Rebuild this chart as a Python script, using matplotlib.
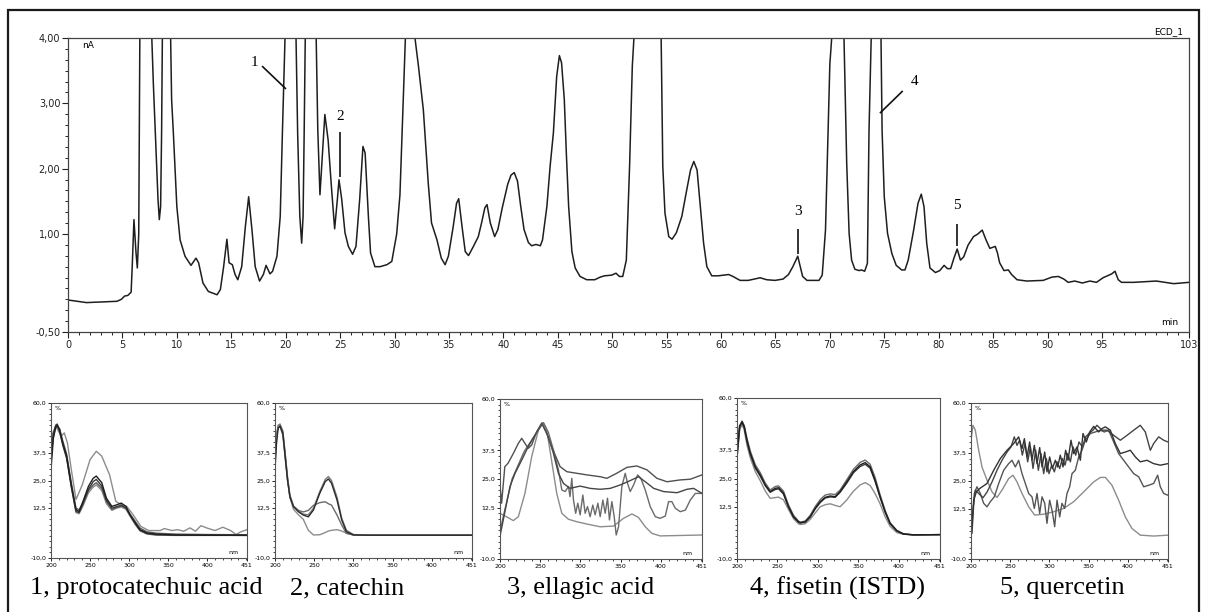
import numpy as np
import matplotlib
matplotlib.use('Agg')
import matplotlib.pyplot as plt
from matplotlib.patches import Rectangle
from matplotlib.ticker import MultipleLocator

# ---- chromatogram (ECD_1), time in min, signal in nA ----
ret_time = [0.0, 1.7, 4.5, 4.9, 5.2, 5.5, 5.8, 5.9, 6.06, 6.25, 6.37, 6.5, 6.6, 7.1, 7.7,
            7.84, 8.09, 8.27, 8.39, 8.51, 8.6, 8.67, 9.05, 9.43, 9.52, 9.68, 10.0, 10.3,
            10.75, 11.3, 11.76, 12.0, 12.4, 12.9, 13.7, 14.0, 14.3, 14.6, 14.8, 15.1, 15.35,
            15.6, 15.96, 16.3, 16.6, 16.9, 17.2, 17.6, 17.95, 18.2, 18.56, 18.8, 19.2, 19.5,
            19.7, 19.94, 20.45, 20.95, 21.1, 21.3, 21.47, 21.6, 21.7, 21.8, 22.3, 22.8, 22.95,
            23.15, 23.4, 23.6, 23.9, 24.2, 24.5, 24.75, 24.9, 25.15, 25.45, 25.76, 26.15, 26.46,
            26.8, 27.1, 27.3, 27.6, 27.8, 28.2, 28.67, 29.3, 29.75, 30.2, 30.5, 31.0, 31.45,
            31.88, 32.2, 32.65, 33.1, 33.4, 33.9, 34.3, 34.65, 34.95, 35.4, 35.7, 35.9, 36.2,
            36.5, 36.8, 37.25, 37.7, 38.0, 38.3, 38.5, 38.8, 39.2, 39.5, 39.9, 40.4, 40.7,
            41.0, 41.3, 41.6, 41.9, 42.3, 42.6, 43.0, 43.4, 43.6, 44.0, 44.3, 44.6, 44.9,
            45.15, 45.35, 45.6, 45.8, 46.0, 46.3, 46.6, 47.05, 47.66, 48.4, 48.9, 49.3, 49.95,
            50.35, 50.66, 50.97, 51.3, 51.6, 51.85, 52.0, 53.3, 54.5, 54.65, 54.85, 55.2, 55.5,
            55.9, 56.4, 56.8, 57.2, 57.5, 57.8, 58.1, 58.4, 58.7, 59.15, 59.75, 60.7, 61.1,
            61.75, 62.5, 63.6, 64.2, 64.96, 65.7, 66.2, 66.6, 67.05, 67.5, 67.9, 69.0, 69.3,
            69.6, 69.8, 70.0, 70.17, 70.7, 71.3, 71.55, 71.77, 72.0, 72.3, 72.7, 72.9, 73.2,
            73.45, 73.6, 73.8, 74.25, 74.7, 74.8, 75.0, 75.3, 75.7, 76.1, 76.6, 76.9, 77.2,
            77.7, 78.1, 78.4, 78.65, 78.9, 79.2, 79.7, 80.1, 80.5, 80.8, 81.1, 81.4, 81.7,
            82.0, 82.3, 82.7, 83.2, 83.6, 84.0, 84.35, 84.7, 85.2, 85.4, 85.6, 86.0, 86.4,
            86.7, 87.2, 88.1, 89.6, 90.4, 91.0, 91.5, 91.9, 92.5, 93.2, 93.9, 94.5, 95.1,
            95.9, 96.2, 96.5, 96.8, 97.9, 100.0, 101.6, 103.0]
signal = [-0.01, -0.05, -0.03, 0.0, 0.05, 0.06, 0.11, 0.5, 1.22, 0.71, 0.48, 1.0, 4.0, 9.0, 4.0,
          3.31, 2.29, 1.53, 1.22, 1.42, 2.55, 4.0, 9.0, 4.0, 3.06, 2.55, 1.42, 0.91,
          0.66, 0.52, 0.63, 0.56, 0.25, 0.12, 0.07, 0.15, 0.5, 0.92, 0.56, 0.53, 0.38,
          0.30, 0.5, 1.12, 1.57, 1.07, 0.5, 0.28, 0.38, 0.52, 0.39, 0.43, 0.66, 1.27,
          2.55, 4.0, 9.0, 4.0, 2.55, 1.27, 0.86, 1.27, 2.55, 4.0, 9.0, 4.0, 2.6,
          1.6, 2.29, 2.83, 2.44, 1.73, 1.08, 1.53, 1.83, 1.53, 1.02, 0.81, 0.69, 0.81,
          1.53, 2.34, 2.24, 1.27, 0.71, 0.5, 0.5, 0.53, 0.58, 1.0, 1.6, 4.0, 9.0,
          4.0, 3.57, 2.9, 1.78, 1.17, 0.91, 0.63, 0.53, 0.66, 1.12, 1.47, 1.54, 1.12,
          0.73, 0.67, 0.81, 0.96, 1.17, 1.4, 1.45, 1.17, 0.96, 1.07, 1.4, 1.76, 1.9,
          1.94, 1.81, 1.42, 1.07, 0.87, 0.82, 0.84, 0.82, 0.91, 1.42, 2.04, 2.55, 3.41,
          3.73, 3.62, 3.06, 2.19, 1.42, 0.73, 0.48, 0.35, 0.3, 0.3, 0.34, 0.36, 0.37,
          0.4, 0.35, 0.35, 0.6, 2.04, 3.57, 4.0, 12.0, 4.0, 2.04, 1.32, 0.96, 0.92,
          1.02, 1.27, 1.63, 1.98, 2.11, 1.98, 1.42, 0.86, 0.5, 0.36, 0.36, 0.38, 0.35,
          0.29, 0.29, 0.33, 0.3, 0.29, 0.31, 0.38, 0.5, 0.66, 0.35, 0.29, 0.29, 0.37,
          1.06, 2.33, 3.6, 4.0, 12.0, 4.0, 2.08, 1.01, 0.6, 0.46, 0.44, 0.45, 0.43,
          0.55, 2.59, 4.0, 12.0, 4.0, 2.59, 1.57, 1.01, 0.7, 0.52, 0.45, 0.45, 0.6,
          1.06, 1.47, 1.61, 1.42, 0.86, 0.48, 0.41, 0.44, 0.52, 0.47, 0.47, 0.63, 0.77,
          0.6, 0.65, 0.83, 0.96, 1.0, 1.06, 0.91, 0.78, 0.81, 0.71, 0.56, 0.44, 0.45,
          0.38, 0.3, 0.28, 0.29, 0.34, 0.35, 0.31, 0.26, 0.28, 0.25, 0.28, 0.26, 0.33,
          0.39, 0.43, 0.3, 0.26, 0.26, 0.28, 0.24, 0.26]

peak_ids = ['1', '2', '3', '4', '5']
peak_line_t = [[17.83, 20.03], [25.0, 25.0], [67.1, 67.1], [76.7, 74.6], [81.7, 81.7]]
peak_line_v = [[3.57, 3.22], [2.56, 1.87], [1.07, 0.70], [3.19, 2.85], [1.15, 0.82]]
peak_text_t = [17.1, 25.0, 67.1, 77.8, 81.7]
peak_text_v = [3.62, 2.7, 1.25, 3.33, 1.33]

# ---- UV spectra ----
# 1, protocatechuic acid
p1_wl_a = [200, 203, 206, 210, 213, 217, 221, 226, 232, 240, 250, 258, 265, 275, 283, 290, 297, 305,
           315, 325, 340, 345, 355, 362, 370, 378, 385, 392, 400, 410, 420, 430, 437, 443, 451]
p1_a = [41, 47, 49.5, 47, 45, 46.5, 42, 30, 16.4, 23, 34.4, 38.2, 36, 27.6, 15.6, 14.1, 13.3, 9.6,
        4.3, 2.4, 2.4, 3.3, 2.4, 2.8, 2.1, 3.6, 2.1, 4.6, 3.5, 2.4, 3.9, 2.4, 0.6, 1.8, 2.8]
p1_wl = [200, 203, 206, 208, 211, 215, 220, 226, 232, 236, 241, 248, 254, 258, 265, 271, 278, 284,
         290, 296, 301, 308, 314, 323, 335, 360, 400, 451]
p1_b = [30, 44, 49, 50, 48, 42, 36, 23, 11.8, 11, 15.6, 22.4, 26, 27, 24, 17, 13.3, 14, 14.8, 13.3,
        9.6, 5.8, 2.8, 1.3, 0.8, 0.4, 0.3, 0.3]
p1_c = [38, 46, 50, 50.5, 47, 41, 35, 22, 11, 10.5, 14.5, 21, 24.5, 25.5, 22.5, 16, 12.5, 13.2, 13.8,
        12.5, 9.5, 5.5, 2.5, 1.0, 0.5, 0.3, 0.3, 0.2]
p1_d = [34, 45, 49, 49.5, 48.5, 43, 37, 24, 12.5, 11.8, 15, 20.5, 23, 24, 21.5, 15.5, 12, 12.8, 13.5,
        12.8, 10, 6.5, 3.5, 1.8, 1.2, 0.8, 0.6, 0.5]
p1_e = [44, 47, 48.5, 49, 47.5, 42, 35.5, 22.5, 10.5, 10, 13.5, 19.5, 22, 23, 20.5, 14.5, 11.5, 12.5,
        13, 12, 9, 5, 2.2, 0.8, 0.3, 0.2, 0.2, 0.2]

# 2, catechin
p2_wl = [200, 202, 204, 206.5, 210, 213, 216, 219, 223.5, 230, 236, 242.5, 249, 257, 264, 268, 272,
         279, 285, 291, 300, 320, 360, 451]
p2_a = [30, 42, 48.6, 49.6, 46.3, 35.8, 25.2, 17.7, 13.2, 10.9, 9.4, 8.6, 11.7, 19.2, 24.5, 25.7,
        23.8, 16.2, 7.2, 1.9, 0.4, 0.3, 0.3, 0.3]
p2_b = [35, 45, 50, 50.5, 47, 37, 26.5, 18.5, 13.5, 11, 9.8, 9.5, 12.5, 20, 25.5, 26.8, 25, 17.5, 8,
        2.5, 0.6, 0.3, 0.3, 0.3]
p2_c = [38, 46, 49, 49.2, 45.5, 35, 25, 17.5, 13.5, 11.5, 10.8, 11.5, 13.8, 15, 15.4, 14.5, 13.9, 9.4,
        4.9, 1.1, 0.4, 0.3, 0.3, 0.3]
p2_d = [32, 44, 49.5, 50, 47.5, 37, 26, 17.5, 12, 9.5, 7.5, 2.5, 0.4, 0.5, 1.5, 2.2, 2.5, 2.8, 2.2,
        1.2, 0.4, 0.3, 0.3, 0.3]

# 3, ellagic acid
p3_wl_a = [200, 208, 216.6, 222.8, 231, 239.4, 247.7, 251.9, 254, 258, 264, 270.5, 276.8, 285, 295.4,
           307.9, 324.5, 341, 353.5, 363.9, 372, 380.5, 388.8, 399, 451]
p3_a = [9.9, 8.5, 6.8, 8.5, 18.7, 34.8, 46.4, 49.4, 49.6, 46.4, 33.3, 18.7, 10, 7.4, 6.3, 5.3, 4.1,
        4.4, 7.8, 9.7, 8.2, 4.1, 1.2, 0.1, 0.5]
p3_wl_b = [200, 202, 206, 210, 216.6, 222.8, 227, 231, 235, 239.4, 245.6, 252, 258, 264, 268.5, 274.7,
           283, 295.4, 307.9, 324.5, 332.8, 345, 357.7, 370, 382.6, 395, 407.5, 424, 436.5, 451]
p3_b = [22.4, 14.4, 30.4, 31.9, 36.2, 40.6, 42.8, 40.6, 38.4, 39.9, 45.7, 49.4, 45, 39.1, 35.5, 30.4,
        28.2, 27.5, 26.8, 26, 25.3, 27.5, 30.1, 30.7, 29, 25.3, 23.8, 24.6, 24.9, 26.8]
p3_wl_c = [200, 204, 212.4, 218.7, 227, 235, 243.6, 252, 260, 266.4, 272.6, 278.8, 287, 299.6, 312,
           324.5, 337, 349.4, 361.8, 372, 380.5, 391, 403.3, 420, 432.3, 440.6, 451]
p3_c = [0, 7, 21.7, 27.5, 33.3, 39.1, 44.3, 49.4, 43.5, 36.2, 27.5, 23.1, 20.9, 21.9, 20.9, 20.5,
        20.9, 22.4, 24.3, 26, 23.8, 20.9, 19.5, 19, 20.5, 20.9, 18.7]
p3_wl_d = [200, 205, 215, 230, 245, 254, 260, 266.4, 272.6, 276.8, 281, 285, 287, 289.2, 291.3, 294,
           296.7, 299.6, 302.9, 305.8, 308.7, 312, 315.3, 318.2, 321.6, 324.5, 327.8, 330.7, 333.6,
           336, 339, 341.9, 344.4, 347.3, 351.4, 355.6, 358.5, 361.8, 366, 371, 375, 380.5, 386.7,
           393, 399, 405.4, 409.5, 413.6, 417.8, 424, 430.3, 436.5, 442.7, 451]
p3_d = [2, 10, 25, 37, 45, 49.6, 45.5, 37.7, 29, 20.2, 19.5, 21.7, 17.3, 25.3, 15.8, 10, 14.4, 9.3,
        18, 10, 12.9, 8.5, 13.6, 9.3, 14.4, 8.5, 15.8, 10, 16.6, 7.1, 15.1, 8.5, 0.5, 4.1, 21.7,
        27.5, 23.1, 19.5, 22.4, 26.8, 25.3, 20.2, 12.9, 8.5, 7.8, 8.8, 15.1, 15.1, 12.2, 10.7,
        11.4, 15.8, 18.7, 18.7]

# 4, fisetin (ISTD)
p4_wl = [200.8, 203.2, 206.2, 209, 212.3, 216.4, 222.6, 228.8, 235, 241, 247.3, 251.4, 257.5, 263.7,
         269.9, 276, 278.1, 284.3, 290.5, 296.7, 302.8, 309, 315.2, 321.4, 327.5, 335.8, 344, 352.2,
         358.4, 364.6, 370.7, 376.9, 383.1, 389.3, 397.5, 405.7, 418, 451]
p4_a = [37.4, 47.5, 49.7, 47.5, 41.7, 36, 30.1, 26.5, 22.2, 19.3, 20.7, 21, 18.6, 12.7, 8.4, 6.2, 5.8,
        6.2, 8.4, 12, 14.9, 16.8, 17.4, 17.1, 19.3, 23.6, 28, 30.9, 31.9, 30.1, 24.3, 17.1, 10.6, 5.5,
        2.3, 0.9, 0.5, 0.6]
p4_b = [36, 46.5, 50, 48, 42.5, 37, 31, 27.5, 23, 20, 21.5, 21.8, 19.5, 13.5, 9, 6.5, 6, 6.5, 9, 12.8,
        15.8, 17.8, 18.3, 18, 20, 24.5, 29, 32, 33, 31.2, 25.5, 18, 11.2, 5.8, 2.5, 1, 0.5, 0.6]
p4_c = [39, 48, 49.5, 47, 41, 35.5, 29.5, 26, 21.8, 19, 20.2, 20.5, 18.2, 12.5, 8.2, 6, 5.6, 6, 8.2,
        11.8, 14.5, 16.5, 17, 16.8, 19, 23, 27.5, 30.2, 31.2, 29.5, 23.8, 16.8, 10.4, 5.3, 2.2, 0.8,
        0.5, 0.6]
p4_d = [38, 46, 48.5, 46, 39.5, 34, 28, 24, 19.5, 16.4, 16.7, 16.9, 15.7, 11.5, 7.5, 5.3, 5, 5.3, 7.2,
        10, 12.7, 13.6, 14, 13.3, 12.7, 15.7, 19.5, 22.2, 23.2, 22, 18.5, 14, 8.4, 4.2, 1.5, 0.8, 0.5,
        0.6]

# 5, quercetin
p5_wl_a = [200, 202.5, 205.5, 209.8, 214, 220.4, 226.8, 233.1, 239.5, 248, 253.5, 258.6, 265, 273.5,
           281.1, 292.6, 305.3, 318.1, 330.8, 343.5, 356.3, 364.8, 371.2, 379.6, 388.1, 396.6, 405.1,
           415.7, 432.7, 451]
p5_a = [43.3, 50, 47.8, 38.8, 31.3, 25.4, 20.1, 17.6, 20.9, 26.1, 27.6, 24.6, 19.4, 13.4, 9.7, 10.1,
        11.2, 12.7, 15.7, 20.1, 24.6, 26.6, 26.6, 23.1, 16.4, 8.9, 3.7, 0.7, 0.3, 0.7]
p5_wl_b = [200, 201.3, 203.4, 206.8, 211, 220.4, 228.9, 237.4, 245.9, 254.4, 260.7, 265, 268, 271.4,
           274.7, 277.7, 280.7, 284.1, 287.5, 290.5, 293.9, 296.8, 300.2, 303.6, 307.5, 310.4, 313.8,
           317.2, 320.6, 323.6, 327.4, 330.8, 335.1, 339.3, 342.7, 346.9, 351.2, 356.3, 362.7, 366.9,
           371.2, 377.5, 383.9, 390.3, 396.6, 403, 409.4, 415.7, 424.2, 432.7, 441.2, 451]
p5_b = [0, 4.5, 16.4, 20.1, 21.6, 23.9, 29.8, 35.1, 38.8, 41.8, 44.8, 39.5, 44, 35.8, 42.5, 34.3, 41,
        32.8, 40, 31.3, 38, 29.1, 35.8, 30.6, 34.3, 31.3, 36.6, 31.3, 38.8, 34.3, 43.3, 37.3, 40.3,
        34.3, 46.3, 42.5, 47, 49.5, 47, 48.5, 49.3, 47.8, 41.8, 37.3, 38, 38.8, 35.8, 33.6, 34.3,
        32.8, 32.1, 32.8]
p5_wl_c = [201.3, 204.2, 207.6, 211.9, 216.1, 220.4, 224.6, 229.7, 235.3, 241.6, 248, 252.2, 256.5,
           260.7, 265, 269.2, 273.5, 277.7, 280.7, 284.1, 287.5, 290.5, 293.9, 296.8, 300.2, 303.6,
           306.6, 309.6, 313, 315.9, 319.3, 322.3, 325.7, 328.7, 332.9, 337.2, 341.4, 345.7, 352,
           358.4, 364.8, 369.9, 375.4, 381.8, 388.1, 394.5, 400.9, 407.3, 413.6, 420, 426.4, 432.7,
           437.8, 441.2, 445.5, 451]
p5_c = [1.5, 19.4, 22.4, 19.4, 15, 13.4, 15.7, 17.9, 23.9, 29.8, 32.8, 34.3, 31.3, 34.3, 28.3, 23.9,
        19.4, 17.9, 12.7, 19.4, 10.4, 17.9, 15, 6, 16.4, 11.2, 4.5, 16.4, 8.9, 15, 12.7, 19.4, 22.4,
        28.3, 29.8, 35.8, 38.8, 43.3, 46.3, 47, 47.8, 47, 47.8, 42.5, 37.3, 34.3, 31.3, 28.3, 26.9,
        22.4, 23.1, 23.9, 27.6, 22.4, 19.4, 18.6]
p5_wl_d = [200, 202.5, 205.5, 209.8, 215.3, 220.4, 226.8, 233.1, 239.5, 245.9, 251, 255.2, 258.6, 262,
           265.4, 268.8, 272.2, 275.6, 279, 282.4, 285.8, 289.2, 292.6, 296, 299.4, 302.8, 306.2,
           309.6, 313, 316.4, 319.8, 323.2, 326.6, 330, 333.4, 337.6, 341.9, 346.1, 350.3, 355.4,
           360.5, 366.9, 373.3, 381.8, 390.3, 398.8, 407.3, 415.7, 422.1, 428.5, 432.7, 439.1, 445.5,
           451]
p5_d = [2, 12, 20.9, 19.4, 17.5, 20, 24.6, 29.8, 34.3, 38, 40.3, 44.8, 41, 43.3, 36.6, 41.8, 33.6,
        40.3, 30.6, 38.8, 29.8, 37.3, 28.3, 35.1, 28.3, 32.1, 29.1, 33.6, 30.6, 35.1, 32.1, 37.3, 33.6,
        40.3, 36.6, 42.5, 40.3, 44.8, 46.3, 47.8, 50, 47.8, 47.8, 45.5, 43.3, 45.5, 47.8, 50, 47,
        38.8, 41.8, 44.8, 43.3, 42.5]

captions = ['1, protocatechuic acid', '2, catechin', '3, ellagic acid', '4, fisetin (ISTD)', '5, quercetin']

W, H = 1207, 612


def px_box(x0, x1, y0, y1):
    # pixel box (top-left origin) -> figure fraction rect
    return [x0 / W, 1 - y1 / H, (x1 - x0) / W, (y1 - y0) / H]


fig = plt.figure(figsize=(W / 100, H / 100), dpi=100)
fig.add_artist(Rectangle((8 / W, -0.05), (1199 - 8) / W, 1.05 - 10 / H, transform=fig.transFigure,
                         fill=False, lw=1.6, ec='#1a1a1a'))

# main chromatogram
ax = fig.add_axes(px_box(68, 1189, 38, 332))
ax.plot(ret_time, signal, color='#1e1e1e', lw=1.1)
ax.set_xlim(0, 103)
ax.set_ylim(-0.5, 4.0)
ax.set_xticks([0, 5, 10, 15, 20, 25, 30, 35, 40, 45, 50, 55, 60, 65, 70, 75, 80, 85, 90, 95, 103])
ax.set_xticklabels(['0', '5', '10', '15', '20', '25', '30', '35', '40', '45', '50', '55', '60', '65',
                    '70', '75', '80', '85', '90', '95', '103'])
ax.xaxis.set_minor_locator(MultipleLocator(1))
ax.set_yticks([-0.5, 1, 2, 3, 4])
ax.set_yticklabels(['-0,50', '1,00', '2,00', '3,00', '4,00'])
ax.yaxis.set_minor_locator(MultipleLocator(1 / 6))
ax.tick_params(which='major', direction='out', length=4, width=0.8, labelsize=7, pad=1.5, colors='#222')
ax.tick_params(which='minor', direction='out', length=2, width=0.7, colors='#222')
for s in ax.spines.values():
    s.set_linewidth(0.9)
    s.set_color('#444')
ax.text(0.018, 0.975, 'nA', transform=ax.transAxes, fontsize=6.5, ha='center', va='center')
ax.text(0.982, 1.02, 'ECD_1', transform=ax.transAxes, fontsize=6.5, ha='center', va='center')
ax.text(0.983, 0.032, 'min', transform=ax.transAxes, fontsize=6.5, ha='center', va='center')

for i in range(len(peak_ids)):
    ax.plot(peak_line_t[i], peak_line_v[i], color='#111', lw=1.2, solid_capstyle='butt')
    ax.text(peak_text_t[i], peak_text_v[i], peak_ids[i], family='Liberation Serif', fontsize=11,
            ha='center', va='bottom' if peak_line_t[i][0] == peak_line_t[i][1] else 'center')

# spectra panels
panel_boxes = [(51, 247, 403, 558), (275, 472, 403, 558), (500, 702, 399, 559),
               (737, 940, 398, 559), (971, 1168, 403, 559)]
panel_curves = [
    [(p1_wl_a, p1_a, '#8c8c8c'), (p1_wl, p1_e, '#8a8a8a'), (p1_wl, p1_d, '#5e5e5e'),
     (p1_wl, p1_c, '#3a3a3a'), (p1_wl, p1_b, '#1e1e1e')],
    [(p2_wl, p2_d, '#8c8c8c'), (p2_wl, p2_c, '#6a6a6a'), (p2_wl, p2_b, '#7a7a7a'), (p2_wl, p2_a, '#2a2a2a')],
    [(p3_wl_a, p3_a, '#8c8c8c'), (p3_wl_d, p3_d, '#6a6a6a'), (p3_wl_c, p3_c, '#454545'),
     (p3_wl_b, p3_b, '#505050')],
    [(p4_wl, p4_d, '#8c8c8c'), (p4_wl, p4_b, '#6a6a6a'), (p4_wl, p4_c, '#3a3a3a'), (p4_wl, p4_a, '#1e1e1e')],
    [(p5_wl_a, p5_a, '#8c8c8c'), (p5_wl_c, p5_c, '#555555'), (p5_wl_d, p5_d, '#444444'),
     (p5_wl_b, p5_b, '#333333')],
]
caption_x = [146, 347, 581, 837, 1062]

for k in range(5):
    x0, x1, y0, y1 = panel_boxes[k]
    sp = fig.add_axes(px_box(x0, x1, y0, y1))
    for wl, vals, col in panel_curves[k]:
        sp.plot(wl, vals, color=col, lw=1.0)
    sp.set_xlim(200, 451)
    sp.set_ylim(-10, 60)
    sp.set_xticks([200, 250, 300, 350, 400, 451])
    sp.set_xticklabels(['200', '250', '300', '350', '400', '451'])
    sp.set_yticks([-10, 12.5, 25, 37.5, 60])
    sp.set_yticklabels(['-10,0', '12,5', '25,0', '37,5', '60,0'])
    sp.xaxis.set_minor_locator(MultipleLocator(10))
    sp.yaxis.set_minor_locator(MultipleLocator(2.5))
    sp.tick_params(which='major', direction='out', length=2.5, width=0.6, labelsize=4.5, pad=1)
    sp.tick_params(which='minor', direction='out', length=1.3, width=0.5)
    for s in sp.spines.values():
        s.set_linewidth(0.8)
        s.set_color('#555')
    sp.text(0.035, 0.965, '%', transform=sp.transAxes, fontsize=4.5, ha='center', va='center')
    sp.text(0.93, 0.035, 'nm', transform=sp.transAxes, fontsize=4.5, ha='center', va='center')
    fig.text(caption_x[k] / W, 1 - 588 / H, captions[k], family='Liberation Serif', fontsize=19,
             ha='center', va='center')

plt.savefig('out.png', dpi=100)
